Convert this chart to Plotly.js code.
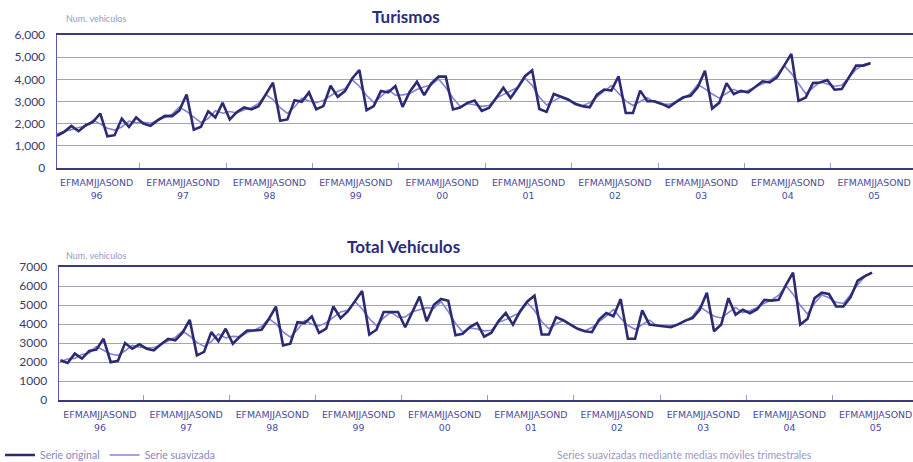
<!DOCTYPE html>
<html>
<head>
<meta charset="utf-8">
<script src="https://cdn.plot.ly/plotly-3.0.1.min.js"></script>
<style>html,body{margin:0;padding:0;background:#fff;}#chart{width:913px;height:462px;}</style>
</head>
<body>
<div id="chart"></div>
<script>
// ---- data (monthly, Jan 1996 .. Jun 2005) ----
const years = ['96','97','98','99','00','01','02','03','04','05'];
const monthLetters = 'EFMAMJJASOND';

const turismosOriginal = [
 1450,1630,1900,1660,1930,2080,2460,1430,1480,2230,1850,2280,
 2000,1900,2160,2350,2340,2600,3320,1730,1860,2560,2280,2940,
 2190,2530,2730,2640,2790,3290,3850,2130,2190,3060,2990,3410,
 2650,2790,3710,3210,3470,4040,4420,2610,2790,3470,3410,3700,
 2760,3440,3890,3290,3820,4120,4120,2640,2730,2940,3040,2580,
 2710,3160,3620,3160,3620,4140,4400,2660,2530,3340,3210,3090,
 2890,2790,2740,3310,3540,3490,4140,2480,2480,3490,3010,3010,
 2890,2740,2980,3190,3260,3640,4390,2680,2950,3830,3330,3480,
 3410,3640,3910,3860,4090,4620,5150,3030,3180,3830,3860,3970,
 3530,3560,4090,4620,4620,4730
];
const turismosSuavizada = [
 1540,1660,1730,1830,1890,2160,1990,1790,1710,1850,2120,2040,
 2060,2020,2140,2280,2430,2750,2550,2300,2050,2230,2590,2470,
 2550,2480,2630,2720,2910,3310,3090,2720,2460,2750,3150,3020,
 2950,3050,3240,3460,3570,3980,3690,3270,2960,3220,3530,3290,
 3300,3360,3540,3670,3740,4020,3630,3160,2770,2900,2850,2780,
 2820,3160,3310,3470,3640,4050,3730,3200,2840,3030,3210,3060,
 2920,2810,2950,3200,3450,3720,3370,3030,2820,2990,3170,2970,
 2880,2870,2970,3140,3360,3760,3570,3340,3150,3370,3550,3410,
 3510,3650,3800,3950,4190,4620,4270,3790,3350,3620,3890,3790,
 3690,3730,4090,4440,4660,4760
];

const totalOriginal = [
 2090,1950,2440,2180,2580,2650,3220,1990,2060,3000,2700,2930,
 2700,2610,2930,3220,3140,3540,4220,2350,2530,3570,3100,3750,
 2960,3340,3660,3660,3700,4250,4920,2870,2960,4100,4050,4400,
 3530,3760,4920,4310,4660,5180,5740,3440,3700,4630,4630,4630,
 3830,4660,5440,4140,5010,5320,5220,3410,3480,3840,4050,3330,
 3540,4150,4580,3970,4670,5190,5490,3450,3450,4360,4200,3970,
 3750,3620,3570,4230,4580,4410,5310,3220,3220,4720,3970,3920,
 3890,3830,3980,4180,4310,4750,5650,3620,3970,5360,4490,4750,
 4570,4780,5270,5230,5270,6050,6700,3970,4260,5360,5650,5580,
 4920,4920,5410,6280,6520,6700
];
const totalSuavizada = [
 2020,2160,2190,2400,2470,2820,2620,2420,2350,2590,2880,2780,
 2750,2750,2920,3100,3300,3630,3370,3030,2820,3070,3470,3270,
 3350,3320,3550,3670,3870,4290,4010,3580,3310,3700,4180,3990,
 3900,4070,4330,4630,4720,5190,4790,4290,3920,4320,4630,4360,
 4370,4640,4750,4860,4820,5180,4650,4040,3580,3790,3740,3640,
 3670,4090,4230,4410,4610,5120,4710,4130,3750,4000,4180,3970,
 3780,3650,3810,4130,4410,4770,4310,3920,3720,3970,4200,3930,
 3880,3900,4000,4160,4410,4900,4670,4410,4320,4610,4870,4600,
 4700,4870,5090,5260,5520,6010,5570,4980,4530,5090,5530,5380,
 5140,5080,5540,6070,6500,6700
];

// ---- build ----
const navy = '#2b2a72';
const lav = '#8583d2';
const font = 'Lato, "DejaVu Sans", sans-serif';
const months = turismosOriginal.map((_, i) => i);
const months2 = totalOriginal.map((_, i) => i);
const yearCenters = years.map((_, k) => 12 * k + 5.5);
const yearBounds = years.map((_, k) => 12 * k - 0.5).concat([12 * years.length - 0.5]);
const yearText = years.map(y => monthLetters + '<br>' + y);

const traces = [
  {x: months, y: turismosSuavizada, type: 'scatter', mode: 'lines', name: 'Serie suavizada',
   line: {color: lav, width: 1.6}, xaxis: 'x', yaxis: 'y', legendrank: 2},
  {x: months, y: turismosOriginal, type: 'scatter', mode: 'lines', name: 'Serie original',
   line: {color: navy, width: 2.6}, xaxis: 'x', yaxis: 'y', legendrank: 1},
  {x: months2, y: totalSuavizada, type: 'scatter', mode: 'lines', name: 'Serie suavizada',
   line: {color: lav, width: 1.6}, xaxis: 'x2', yaxis: 'y2', showlegend: false},
  {x: months2, y: totalOriginal, type: 'scatter', mode: 'lines', name: 'Serie original',
   line: {color: navy, width: 2.6}, xaxis: 'x2', yaxis: 'y2', showlegend: false}
];

function xAxis(domain, range, anchor) {
  return {
    domain: domain, range: range, anchor: anchor,
    showgrid: false, zeroline: false,
    showline: true, mirror: true, linecolor: '#3a3a80', linewidth: 2,
    tickmode: 'array', tickvals: yearCenters, ticktext: yearText, ticks: '',
    ticklabelstandoff: 5, ticklabeloverflow: 'allow',
    tickfont: {family: '"DejaVu Sans", sans-serif', size: 9.4, color: '#4a4a9c'},
    minor: {tickmode: 'array', tickvals: yearBounds, ticks: 'inside', ticklen: 5,
            tickcolor: '#9a9ac8', tickwidth: 1, showgrid: false},
    automargin: false, fixedrange: true
  };
}
function yAxis(domain, range, dtick, fmt, anchor) {
  return {
    domain: domain, range: range, anchor: anchor, dtick: dtick, tick0: 0,
    tickformat: fmt, showgrid: true, gridcolor: '#a4a4b4', gridwidth: 1,
    zeroline: false, showline: true, linecolor: '#5a58b8', linewidth: 1.5,
    ticks: '', ticklabelstandoff: 8,
    tickfont: {family: font, size: 12, color: '#3a3a6c'},
    automargin: false, fixedrange: true
  };
}

const layout = {
  width: 913, height: 462,
  margin: {l: 0, r: 0, t: 0, b: 0, autoexpand: false},
  paper_bgcolor: '#ffffff', plot_bgcolor: '#ffffff',
  showlegend: true,
  legend: {orientation: 'h', x: 0, xanchor: 'left', y: (462 - 455) / 462, yanchor: 'middle',
           font: {family: font, size: 10.5, color: '#8a88b8'}, bgcolor: 'rgba(0,0,0,0)',
           itemwidth: 30, tracegroupgap: 0},
  xaxis: xAxis([57 / 913, 1], [0, 118.9], 'y'),
  yaxis: yAxis([(462 - 168) / 462, (462 - 35) / 462], [0, 6000], 1000, ',d', 'x'),
  xaxis2: xAxis([59 / 913, 1], [-0.2, 118.7], 'y2'),
  yaxis2: yAxis([(462 - 400) / 462, (462 - 267) / 462], [0, 7000], 1000, 'd', 'x2'),
  annotations: [
    {text: '<b>Turismos</b>', xref: 'paper', yref: 'paper', x: 406 / 913, y: (462 - 16) / 462,
     yanchor: 'middle', showarrow: false, font: {family: font, size: 17, color: '#2c2c7a'}},
    {text: '<b>Total Vehículos</b>', xref: 'paper', yref: 'paper', x: 403 / 913, y: (462 - 246) / 462,
     yanchor: 'middle', showarrow: false, font: {family: font, size: 17, color: '#2c2c7a'}},
    {text: 'Num. vehiculos', xref: 'paper', yref: 'paper', x: 64 / 913, y: (462 - 18) / 462,
     xanchor: 'left', yanchor: 'middle', showarrow: false, font: {family: font, size: 9, color: '#9a98c4'}},
    {text: 'Num. vehiculos', xref: 'paper', yref: 'paper', x: 64 / 913, y: (462 - 255) / 462,
     xanchor: 'left', yanchor: 'middle', showarrow: false, font: {family: font, size: 9, color: '#9a98c4'}},
    {text: 'Series suavizadas mediante medias móviles trimestrales', xref: 'paper', yref: 'paper',
     x: 555 / 913, y: (462 - 455) / 462, xanchor: 'left', yanchor: 'middle', showarrow: false,
     font: {family: font, size: 10.5, color: '#9a98c4'}}
  ]
};

Plotly.newPlot('chart', traces, layout, {staticPlot: true, displayModeBar: false});
</script>
</body>
</html>
